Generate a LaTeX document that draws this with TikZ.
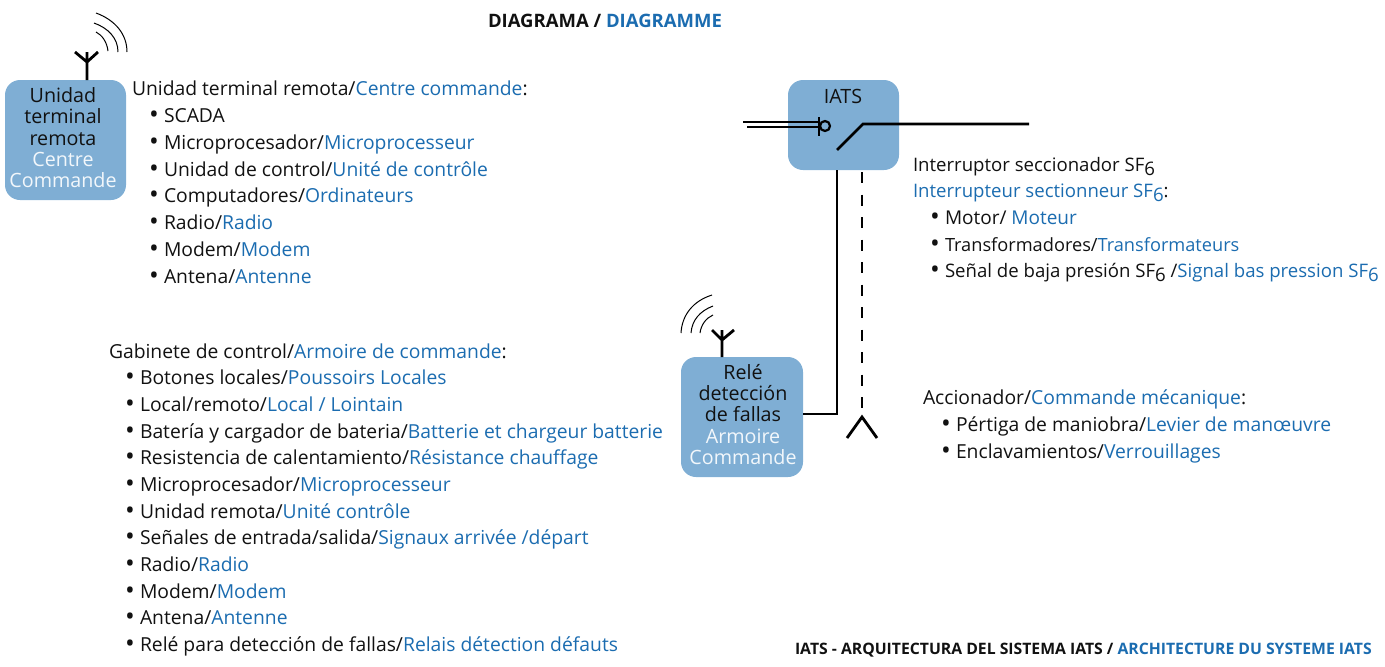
\documentclass[tikz,border=0pt]{standalone}
\usepackage{fontspec}
\setmainfont{Open Sans}
\definecolor{frblue}{HTML}{1B6CB0}
\definecolor{boxblue}{HTML}{7FAED4}
\definecolor{ink}{HTML}{111111}
\newcommand{\fr}[1]{\textcolor{frblue}{#1}}
\newcommand{\sub}[1]{\raisebox{-4.5pt}{#1}}
\newcommand{\bul}{\makebox[0pt][r]{\raisebox{-1.4pt}{\fontsize{26}{26}\selectfont •}\hspace{5pt}}}
\tikzset{
  txt/.style={anchor=base west,inner sep=0pt,outer sep=0pt,text=ink,font=\fontsize{19.3}{22}\selectfont},
  txr/.style={txt,font=\fontsize{18.6}{22}\selectfont},
  ttl/.style={anchor=base west,inner sep=0pt,outer sep=0pt,text=ink,font=\fontsize{18.5}{20}\selectfont\bfseries},
  ttls/.style={ttl,font=\fontsize{15.75}{17}\selectfont\bfseries},
  ubox/.style={rounded corners=15pt,fill=boxblue,inner sep=0pt,minimum width=#1},
  boxt/.style={inner sep=0pt,text=ink,font=\fontsize{19.7}{22}\selectfont},
  boxw/.style={inner sep=0pt,text=white!90!boxblue,font=\fontsize{19.7}{22}\selectfont},
  wire/.style={line width=2.8pt,draw=black},
  thin wire/.style={line width=2.3pt,draw=black},
  wave/.style={line width=1pt,draw=black},
}
\begin{document}
\begin{tikzpicture}[x=1pt,y=-1pt]
\useasboundingbox (0,0) rectangle (1385,667);
% titles
\node[ttl] (t1) at (488,27) {DIAGRAMA / \fr{DIAGRAMME}};
\node[ttls] (t2) at (795,654) {IATS - ARQUITECTURA DEL SISTEMA IATS / \fr{ARCHITECTURE DU SYSTEME IATS}};
% boxes
\node[ubox=121pt,minimum height=120pt] (rtu) at (65.5,140) {};
\node[ubox=111pt,minimum height=90pt] (iats) at (843.5,125) {};
\node[ubox=122pt,minimum height=120pt] (rele) at (742,417) {};
% box labels
\node[boxt,anchor=base] (a1) at (63,102) {Unidad};
\node[boxt,anchor=base] (a2) at (63,123) {terminal};
\node[boxt,anchor=base] (a3) at (63,145) {remota};
\node[boxw,anchor=base] (a4) at (63,166) {Centre};
\node[boxw,anchor=base] (a5) at (63,187) {Commande};
\node[boxt,anchor=base] (i1) at (843,103) {IATS};
\node[boxt,anchor=base] (r1) at (743,379) {Relé};
\node[boxt,anchor=base] (r2) at (743,400) {detección};
\node[boxt,anchor=base] (r3) at (743,421) {de fallas};
\node[boxw,anchor=base] (r4) at (743,443) {Armoire};
\node[boxw,anchor=base] (r5) at (743,464) {Commande};
% antenna 1
\coordinate (ant1j) at (87,62);
\coordinate (ant1l) at (75,52);
\coordinate (ant1r) at (98,52);
\coordinate (ant1t) at (87,52);
\coordinate (ant1b) at (87,80);
\draw[wire] (ant1b) -- (ant1t) (ant1l) -- (ant1j) -- (ant1r);
\draw[wave] (96,13) .. controls (115,20) and (127,34) .. (127,52);
\draw[wave] (94,23) .. controls (108,28) and (118,38) .. (118,52);
\draw[wave] (96,32) .. controls (102,35) and (107,42) .. (108,51);
% antenna 2
\coordinate (ant2j) at (722,340);
\coordinate (ant2l) at (712,330);
\coordinate (ant2r) at (734,330);
\coordinate (ant2t) at (722,330);
\coordinate (ant2b) at (722,357);
\draw[wire] (ant2b) -- (ant2t) (ant2l) -- (ant2j) -- (ant2r);
\draw[wave] (712,295) .. controls (693,301) and (682,315) .. (681,333);
\draw[wave] (713,306) .. controls (700,311) and (692,320) .. (691,333);
\draw[wave] (713,315) .. controls (706,318) and (701,325) .. (700,333);
% switch
\coordinate (inA) at (743,122);
\coordinate (inB) at (747,127);
\coordinate (barT) at (819,117);
\coordinate (barB) at (819,136);
\coordinate (barM) at (819,122);
\coordinate (barN) at (819,127);
\node[circle,draw=black,line width=2.2pt,minimum size=10pt,inner sep=0pt] (coil) at (825,126) {};
\draw[wire] (inA) -- (barM);
\draw[thin wire] (inB) -- (barN);
\draw[wire] (barT) -- (barB);
\coordinate (swA) at (837,150);
\coordinate (swB) at (863,124);
\coordinate (swC) at (1029,124);
\draw[wire] (swA) -- (swB) -- (swC);
% links
\coordinate (cor) at (837,414);
\draw[wire] (iats.south -| cor) -- (cor) -- (cor -| rele.east);
\coordinate (dA) at (862,172);
\coordinate (dB) at (862,417);
\coordinate (dL) at (847,438);
\coordinate (dR) at (877,438);
\draw[wire,dash pattern=on 11pt off 11.5pt] (dA) -- (dB);
\draw[wire] (dL) -- (dB) -- (dR);
% list 1
\node[txt] (l0) at (132,95) {Unidad terminal remota/\fr{Centre commande}:};
\node[txt] (l1) at (164,122) {\bul SCADA};
\node[txt] (l2) at (164,149) {\bul Microprocesador/\fr{Microprocesseur}};
\node[txt] (l3) at (164,176) {\bul Unidad de control/\fr{Unité de contrôle}};
\node[txt] (l4) at (164,202) {\bul Computadores/\fr{Ordinateurs}};
\node[txt] (l5) at (164,229) {\bul Radio/\fr{Radio}};
\node[txt] (l6) at (164,256) {\bul Modem/\fr{Modem}};
\node[txt] (l7) at (164,283) {\bul Antena/\fr{Antenne}};
% list 2
\node[txt] (g0) at (109,358) {Gabinete de control/\fr{Armoire de commande}:};
\node[txt] (g1) at (140,384) {\bul Botones locales/\fr{Poussoirs Locales}};
\node[txt] (g2) at (140,411) {\bul Local/remoto/\fr{Local / Lointain}};
\node[txt] (g3) at (140,438) {\bul Batería y cargador de bateria/\fr{Batterie et chargeur batterie}};
\node[txt] (g4) at (140,464) {\bul Resistencia de calentamiento/\fr{Résistance chauffage}};
\node[txt] (g5) at (140,491) {\bul Microprocesador/\fr{Microprocesseur}};
\node[txt] (g6) at (140,518) {\bul Unidad remota/\fr{Unité contrôle}};
\node[txt] (g7) at (140,544) {\bul Señales de entrada/salida/\fr{Signaux arrivée /départ}};
\node[txt] (g8) at (140,571) {\bul Radio/\fr{Radio}};
\node[txt] (g9) at (140,598) {\bul Modem/\fr{Modem}};
\node[txt] (g10) at (140,624) {\bul Antena/\fr{Antenne}};
\node[txt] (g11) at (140,651) {\bul Relé para detección de fallas/\fr{Relais détection défauts}};
% list 3
\node[txr] (s0) at (913,171) {Interruptor seccionador SF\sub{6}};
\node[txr] (s1) at (913,197) {\fr{Interrupteur sectionneur SF\sub{6}}:};
\node[txr,font=\fontsize{19}{22}\selectfont] (s2) at (945,224) {\bul Motor/ \fr{Moteur}};
\node[txr,font=\fontsize{18.2}{22}\selectfont] (s3) at (945,251) {\bul Transformadores/\fr{Transformateurs}};
\node[txr] (s4) at (945,277) {\bul Señal de baja presión SF\sub{6} /\fr{Signal bas pression SF\sub{6}}};
% list 4
\node[txt] (c0) at (923,404) {Accionador/\fr{Commande mécanique}:};
\node[txt] (c1) at (956,431) {\bul Pértiga de maniobra/\fr{Levier de manœuvre}};
\node[txt] (c2) at (956,458) {\bul Enclavamientos/\fr{Verrouillages}};
\end{tikzpicture}
\end{document}
